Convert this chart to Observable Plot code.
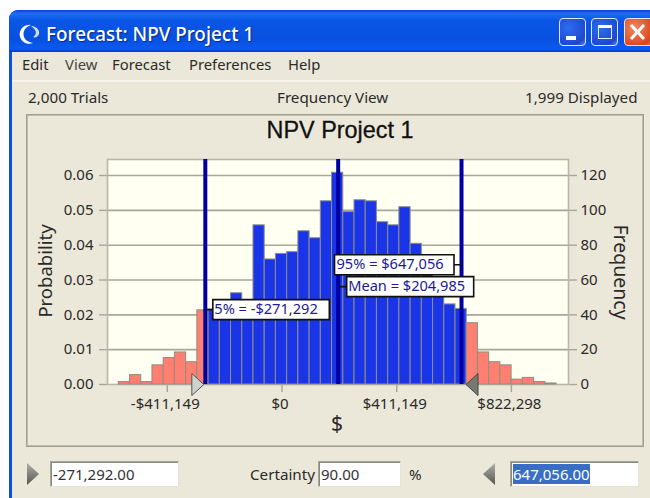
<!DOCTYPE html>
<html>
<head>
<meta charset="utf-8">
<script src="https://cdn.jsdelivr.net/npm/d3@7"></script>
<script src="https://cdn.jsdelivr.net/npm/@observablehq/plot@0.6"></script>
<style>
html,body{margin:0;padding:0;background:#fff;width:650px;height:498px;overflow:hidden}
body,svg{font-family:"Noto Sans",Tahoma,sans-serif}
.abs{position:absolute;white-space:nowrap;color:#2a2a2a;font-size:15.2px;line-height:18px}
#win{position:absolute;left:9px;top:10px;width:660px;height:500px;background:#0a4fe0;border-radius:9px 9px 0 0}
#bar{position:absolute;left:0;top:0;right:0;height:42px;border-radius:9px 9px 0 0;background:linear-gradient(#0a3fd8 0,#1b6df2 8%,#0b56e6 25%,#0850e0 70%,#0a5af0 92%,#063cc4 100%)}
#body{position:absolute;left:3px;top:42px;right:0;bottom:0;background:#ebe8d9}
#menuline{position:absolute;left:12px;top:80px;width:640px;height:2px;background:#f6f4ea}
#panel{position:absolute;left:26px;top:114px;width:616px;height:331px;border:1px solid #a09e90;box-shadow:inset 0 0 0 1px #c0bdae}
#chart{position:absolute;left:27px;top:115px}
.btn{position:absolute;top:18px;width:27px;height:28px;border:1px solid #dfe8fb;border-radius:4px;box-sizing:border-box;background:radial-gradient(circle at 35% 35%,#2f6cf0,#1c48cf 75%,#5a82e6)}
.field{position:absolute;top:461px;height:26px;box-sizing:border-box;background:#fff;border:1px solid #a8a698;border-right-color:#e6e4d8;border-bottom-color:#e6e4d8;box-shadow:inset 1px 1px 0 #8a887c;font-size:15px;line-height:24px;padding-left:2px;color:#333}
.arrow{position:absolute;top:463px;width:12px;height:22px;background:linear-gradient(#aeb0aa,#55574f)}
</style>
</head>
<body>
<div id="win"><div id="bar"></div><div id="body"></div></div>
<div id="menuline"></div>

<svg class="abs" style="left:17px;top:22px" width="26" height="24" viewBox="0 0 26 24">
  <path d="M14 3 A9.5 9.5 0 1 0 16 21 C9 20 5 15 7 9 C8 6 11 4 14 3Z" fill="#fff"/>
  <path d="M14 4 C19 4 23 8 22 12 C21 15 18 16 16 15 C18 14 20 11 18 8 C17 6 15 5 14 4Z" fill="#cfdcf8"/>
</svg>
<div class="abs" style="left:46px;top:23px;font-size:18.9px;line-height:22px;font-weight:500;color:#fff;text-shadow:1px 1px 1px #0a2a90">Forecast: NPV Project 1</div>
<div class="btn" style="left:559px"><div style="position:absolute;left:6px;bottom:5px;width:10px;height:4px;background:#fff"></div></div>
<div class="btn" style="left:591px"><div style="position:absolute;left:6px;top:6px;width:14px;height:14px;border:1px solid #e4ecfc;border-top:3px solid #fff;box-sizing:border-box"></div></div>
<div class="btn" style="left:624px;width:30px;background:radial-gradient(circle at 35% 35%,#ee8a62,#d8461c 75%,#e87a58)"><svg width="26" height="26" style="position:absolute;left:0;top:0"><path d="M6 6 L19 20 M19 6 L6 20" stroke="#fff" stroke-width="3"/></svg></div>

<div class="abs" style="left:22px;top:55px;font-size:14.8px">Edit</div>
<div class="abs" style="left:65px;top:55px;font-size:14.8px;color:#444">View</div>
<div class="abs" style="left:112px;top:55px;font-size:14.8px">Forecast</div>
<div class="abs" style="left:189px;top:55px;font-size:14.8px">Preferences</div>
<div class="abs" style="left:288px;top:55px;font-size:14.8px">Help</div>

<div class="abs" style="left:28px;top:88px">2,000 Trials</div>
<div class="abs" style="left:277px;top:88px">Frequency View</div>
<div class="abs" style="left:525px;top:88px">1,999 Displayed</div>

<div id="panel"></div>
<div id="chart"></div>
<div class="abs" style="left:30px;width:620px;text-align:center;top:117px;font-family:'Liberation Sans',sans-serif;font-size:23.4px;line-height:26px;color:#111;-webkit-text-stroke:0.3px #111">NPV Project 1</div>

<div class="arrow" style="left:27px;clip-path:polygon(0 0,100% 50%,0 100%)"></div>
<div class="field" style="left:50px;width:129px">-271,292.00</div>
<div class="abs" style="left:250px;top:465px">Certainty</div>
<div class="field" style="left:318px;width:83px">90.00</div>
<div class="abs" style="left:409px;top:465px">%</div>
<div class="arrow" style="left:483px;clip-path:polygon(100% 0,0 50%,100% 100%)"></div>
<div class="field" style="left:510px;width:129px"><span style="background:#3a6ec4;color:#fff">647,056.00</span></div>

<script>
// Histogram: probability per bin
const leftTailProb = [0.0007, 0.0027, 0.0007, 0.0055, 0.0076, 0.0092, 0.0064, 0.0213];
const middleProb = [0.0215, 0.023, 0.0262, 0.0236, 0.0457, 0.0359, 0.0375, 0.038, 0.044, 0.042, 0.0526,
  0.0608, 0.0495, 0.0529, 0.0526, 0.0466, 0.0457, 0.0509, 0.0404, 0.034, 0.029, 0.023, 0.0217];
const rightTailProb = [0.0176, 0.0092, 0.0064, 0.0055, 0.0014, 0.0019, 0.0007, 0.0003];
const firstBinStart = -585000;
const binWidth = 40230;

const xTickValues = [-411149, 0, 411149, 822298];
const yTickValues = [0, 0.01, 0.02, 0.03, 0.04, 0.05, 0.06];
const trials = 2000;
const lowerCertainty = -271292;
const upperCertainty = 647056;
const meanValue = 204985;
const labelLower = "5% = -$271,292";
const labelUpper = "95% = $647,056";
const labelMean = "Mean = $204,985";

const probs = [...leftTailProb, ...middleProb, ...rightTailProb];
const bins = probs.map((p, i) => ({
  x1: firstBinStart + i * binWidth,
  x2: firstBinStart + (i + 1) * binWidth,
  p,
  inside: i >= leftTailProb.length && i < leftTailProb.length + middleProb.length
}));

const money = d => (d < 0 ? "-$" : "$") + d3.format(",")(Math.abs(d));

// Callout: box offset from its anchor plus the short connector to the line
const callout = (x0, w, h, cx0, cx1) => ({
  draw(c) {
    c.rect(x0, -h / 2, w, h);
    c.moveTo(cx0, 0);
    c.lineTo(cx1, 0);
  }
});
const handle = (tipX, baseX, h) => ({
  draw(c) {
    c.moveTo(tipX, 0);
    c.lineTo(baseX, -h / 2);
    c.lineTo(baseX, h / 2);
    c.closePath();
  }
});

const tickColor = "#a8a69a";
const textColor = "#2a2a2a";
const labelColor = "#1c1c90";

const annotate = (x, p, sym, text, tx) => [
  Plot.dot([{x, p}], {x: "x", y: "p", symbol: sym, fill: "#fff", stroke: "#111", strokeWidth: 1.6}),
  Plot.text([{x, p}], {x: "x", y: "p", text: () => text, dx: tx, textAnchor: "start", fill: labelColor, fontSize: 14.6})
];

const chart = Plot.plot({
  width: 616, height: 331,
  marginLeft: 80, marginRight: 75, marginTop: 44, marginBottom: 62,
  style: {background: "transparent", fontFamily: "'Noto Sans',sans-serif", fontSize: "15px", overflow: "visible"},
  x: {domain: [-625500, 1026970], label: null},
  y: {domain: [0, 0.0646], label: null},
  marks: [
    Plot.frame({fill: "#fffff2", stroke: "none"}),
    Plot.ruleY(yTickValues.slice(1), {stroke: tickColor, strokeWidth: 1.6}),
    Plot.axisX({ticks: xTickValues, tickFormat: () => "", tickSize: 8, stroke: tickColor, strokeWidth: 1.4, label: null}),
    Plot.axisX({ticks: xTickValues, tickFormat: money, tickSize: 0, dx: -2,
      fill: textColor, tickPadding: 14, label: null}),
    Plot.axisY({anchor: "left", ticks: yTickValues, tickFormat: d3.format(".2f"), tickSize: 8, stroke: tickColor, strokeWidth: 1.4,
      fill: textColor, tickPadding: 6, label: null}),
    Plot.axisY({anchor: "right", ticks: yTickValues, tickFormat: d => d3.format("d")(Math.round(d * trials)), tickSize: 8, stroke: tickColor, strokeWidth: 1.4,
      fill: textColor, tickPadding: 4, label: null}),
    Plot.text(["Probability"], {frameAnchor: "left", textAnchor: "middle", rotate: -90, dx: -61, dy: -1, fontSize: 18.5, fill: textColor}),
    Plot.text(["Frequency"], {frameAnchor: "right", textAnchor: "middle", rotate: 90, dx: 52, dy: 0, fontSize: 19.5, fill: textColor}),
    Plot.text(["$"], {frameAnchor: "bottom", dy: 46, dx: -1, fontSize: 21, fill: textColor}),
    Plot.frame({stroke: "#b8b6a8", strokeWidth: 1.6}),
    Plot.rect(bins, {
      x1: "x1", x2: "x2", y1: 0, y2: "p",
      fill: d => d.inside ? "#1a35e8" : "#ff8070",
      stroke: "#8e8e84", strokeWidth: 1
    }),
    Plot.ruleX([lowerCertainty, meanValue, upperCertainty], {stroke: "#0000a0", strokeWidth: 4, dx: -1}),
    ...annotate(upperCertainty, 0.0344, callout(-128, 119.5, 20, -8.5, 0), labelUpper, -126),
    ...annotate(meanValue, 0.0281, callout(7.5, 127, 20, 0, 7.5), labelMean, 9),
    ...annotate(lowerCertainty, 0.0215, callout(6.5, 116.5, 20, 0, 6.5), labelLower, 8),
    Plot.dot([lowerCertainty], {x: d => d, y: () => 0, symbol: handle(-2.5, -14.5, 22), fill: "#ccd2cc", stroke: "#555", strokeWidth: 1}),
    Plot.dot([upperCertainty], {x: d => d, y: () => 0, symbol: handle(3.5, 15.5, 22), fill: "#777a74", stroke: "#444", strokeWidth: 1})
  ]
});
document.getElementById("chart").appendChild(chart);
</script>
</body>
</html>
